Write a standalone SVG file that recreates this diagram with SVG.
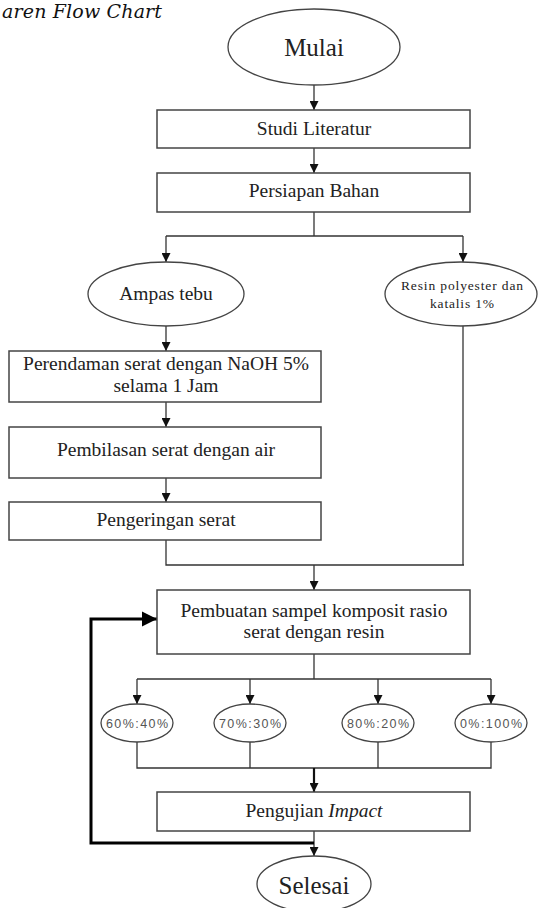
<svg xmlns="http://www.w3.org/2000/svg" width="538" height="908" viewBox="0 0 538 908">
<style>
  .box{fill:#fff;stroke:#444;stroke-width:1.5}
  .ell{fill:#fff;stroke:#444;stroke-width:1.3}
  .t{font-family:"Liberation Serif","Times New Roman",serif;fill:#222;text-anchor:middle}
  .it{font-family:"DejaVu Serif","Liberation Serif",serif;font-style:italic}
  .title{font-size:19px;fill:#111}
  .b{font-size:19.5px}
  .big{font-size:25px}
  .sm{font-size:13.5px}
  .r{font-family:"Liberation Sans",Arial,sans-serif;font-size:12.5px;fill:#555;text-anchor:middle}
  .c{fill:none;stroke:#333;stroke-width:1.3}
  .fb{fill:none;stroke:#000;stroke-width:3}
</style>
<defs>
  <marker id="ah" viewBox="0 0 10 10" refX="10" refY="5" markerWidth="9" markerHeight="9" markerUnits="userSpaceOnUse" orient="auto">
    <path d="M0,0 L10,5 L0,10 z" fill="#111"/>
  </marker>
  <marker id="ahb" viewBox="0 0 10 10" refX="10" refY="5" markerWidth="15" markerHeight="16" markerUnits="userSpaceOnUse" orient="auto">
    <path d="M0,0 L10,5 L0,10 z" fill="#000"/>
  </marker>
</defs>
<rect width="538" height="908" fill="#fff"/>
<text class="it title" x="2" y="18" textLength="160">aren Flow Chart</text>

<g id="connectors">
  <line class="c" x1="314" y1="85" x2="314" y2="110" marker-end="url(#ah)"/>
  <line class="c" x1="314" y1="148" x2="314" y2="173" marker-end="url(#ah)"/>
  <line class="c" x1="314" y1="212" x2="314" y2="236"/>
  <line class="c" x1="166" y1="236" x2="463" y2="236"/>
  <line class="c" x1="166" y1="236" x2="166" y2="262" marker-end="url(#ah)"/>
  <line class="c" x1="463" y1="236" x2="463" y2="262" marker-end="url(#ah)"/>
  <line class="c" x1="166" y1="326" x2="166" y2="351" marker-end="url(#ah)"/>
  <line class="c" x1="166" y1="402" x2="166" y2="427" marker-end="url(#ah)"/>
  <line class="c" x1="166" y1="478" x2="166" y2="502" marker-end="url(#ah)"/>
  <polyline class="c" points="166,540 166,565 464,565"/>
  <line class="c" x1="463" y1="326" x2="463" y2="565"/>
  <line class="c" x1="314" y1="565" x2="314" y2="590" marker-end="url(#ah)"/>
  <line class="c" x1="314" y1="654" x2="314" y2="679"/>
  <line class="c" x1="137" y1="679" x2="491" y2="679"/>
  <line class="c" x1="137" y1="679" x2="137" y2="704" marker-end="url(#ah)"/>
  <line class="c" x1="250" y1="679" x2="250" y2="704" marker-end="url(#ah)"/>
  <line class="c" x1="378" y1="679" x2="378" y2="704" marker-end="url(#ah)"/>
  <line class="c" x1="491" y1="679" x2="491" y2="704" marker-end="url(#ah)"/>
  <polyline class="c" points="137,742 137,768 491,768 491,742"/>
  <line class="c" x1="250" y1="742" x2="250" y2="768"/>
  <line class="c" x1="378" y1="742" x2="378" y2="768"/>
  <line x1="314" y1="768" x2="314" y2="792" stroke="#111" stroke-width="2.2" marker-end="url(#ah)"/>
  <line class="c" x1="314" y1="831" x2="314" y2="856" marker-end="url(#ah)"/>
  <polyline class="fb" points="314,843 91,843 91,619 157,619" marker-end="url(#ahb)"/>
</g>

<g id="mulai">
  <ellipse class="ell" cx="314" cy="47" rx="86" ry="38"/>
  <text class="t big" x="314" y="56">Mulai</text>
</g>
<g id="studi">
  <rect class="box" x="157" y="110" width="313" height="38"/>
  <text class="t b" x="314" y="135">Studi Literatur</text>
</g>
<g id="persiapan">
  <rect class="box" x="157" y="173" width="313" height="39"/>
  <text class="t b" x="314" y="197">Persiapan Bahan</text>
</g>
<g id="ampas">
  <ellipse class="ell" cx="166" cy="294" rx="78" ry="32"/>
  <text class="t b" x="166" y="300">Ampas tebu</text>
</g>
<g id="resin">
  <ellipse class="ell" cx="461" cy="294" rx="76" ry="32"/>
  <text class="t sm" x="462" y="290" textLength="122">Resin polyester dan</text>
  <text class="t sm" x="462" y="308" textLength="64">katalis 1%</text>
</g>
<g id="perendaman">
  <rect class="box" x="9" y="351" width="312" height="51"/>
  <text class="t b" x="166" y="370">Perendaman serat dengan NaOH 5%</text>
  <text class="t b" x="166" y="392">selama 1 Jam</text>
</g>
<g id="pembilasan">
  <rect class="box" x="9" y="427" width="312" height="51"/>
  <text class="t b" x="166" y="456">Pembilasan serat dengan air</text>
</g>
<g id="pengeringan">
  <rect class="box" x="9" y="502" width="312" height="38"/>
  <text class="t b" x="166" y="526">Pengeringan serat</text>
</g>
<g id="pembuatan">
  <rect class="box" x="157" y="590" width="313" height="64"/>
  <text class="t b" x="314" y="617">Pembuatan sampel komposit rasio</text>
  <text class="t b" x="314" y="638">serat dengan resin</text>
</g>
<g id="r60">
  <ellipse class="ell" cx="137" cy="723" rx="36" ry="19"/>
  <text class="r" x="137" y="728" textLength="62">60%:40%</text>
</g>
<g id="r70">
  <ellipse class="ell" cx="250" cy="723" rx="36" ry="19"/>
  <text class="r" x="250" y="728" textLength="62">70%:30%</text>
</g>
<g id="r80">
  <ellipse class="ell" cx="378" cy="723" rx="36" ry="19"/>
  <text class="r" x="378" y="728" textLength="62">80%:20%</text>
</g>
<g id="r0">
  <ellipse class="ell" cx="491" cy="723" rx="36" ry="19"/>
  <text class="r" x="491" y="728" textLength="62">0%:100%</text>
</g>
<g id="pengujian">
  <rect class="box" x="157" y="792" width="313" height="39"/>
  <text class="t b" x="314" y="817">Pengujian <tspan font-style="italic">Impact</tspan></text>
</g>
<g id="selesai">
  <ellipse class="ell" cx="314" cy="884" rx="57" ry="28"/>
  <text class="t big" x="314" y="894">Selesai</text>
</g>
</svg>
